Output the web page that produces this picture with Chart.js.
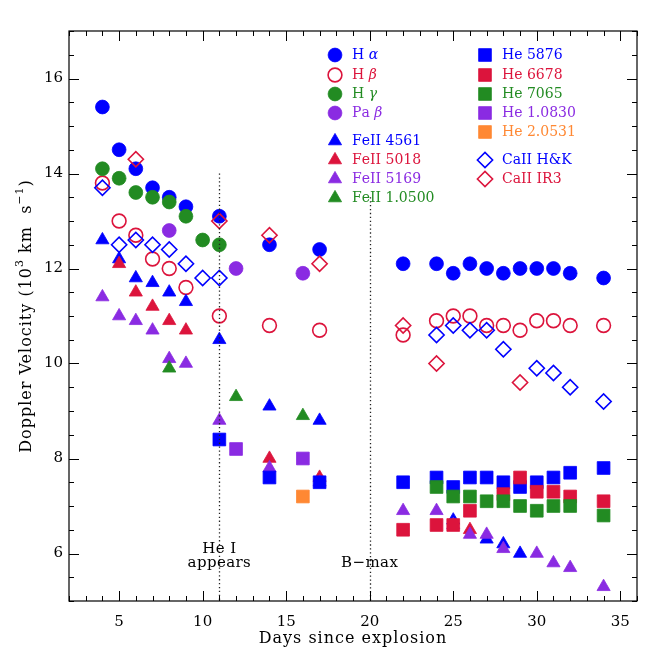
<!DOCTYPE html>
<html><head><meta charset="utf-8">
<script src="https://cdn.jsdelivr.net/npm/chart.js@4/dist/chart.umd.min.js"></script>
<style>html,body{margin:0;padding:0;background:#fff}#wrap{width:664px;height:664px}</style>
</head><body><div id="wrap"><canvas id="c" width="664" height="664"></canvas></div>
<script>
// ---------------- data ----------------
const X_TICKS = [5, 10, 15, 20, 25, 30, 35];
const Y_TICKS = [6, 8, 10, 12, 14, 16];

const haDays = [4,5,6,7,8,9,11,14,17,22,24,25,26,27,28,29,30,31,32,34];
const haVel  = [15.4,14.5,14.1,13.7,13.5,13.3,13.1,12.5,12.4,12.1,12.1,11.9,12.1,12.0,11.9,12.0,12.0,12.0,11.9,11.8];
const hbDays = [4,5,6,7,8,9,11,14,17,22,24,25,26,27,28,29,30,31,32,34];
const hbVel  = [13.8,13.0,12.7,12.2,12.0,11.6,11.0,10.8,10.7,10.6,10.9,11.0,11.0,10.8,10.8,10.7,10.9,10.9,10.8,10.8];
const hgDays = [4,5,6,7,8,9,10,11];
const hgVel  = [14.1,13.9,13.6,13.5,13.4,13.1,12.6,12.5];
const pabDays = [8,12,16];
const pabVel  = [12.8,12.0,11.9];
const fe4561Days = [4,5,6,7,8,9,11,14,17,25,27,28,29];
const fe4561Vel  = [12.6,12.2,11.8,11.7,11.5,11.3,10.5,9.1,8.8,6.7,6.3,6.2,6.0];
const fe5018Days = [5,6,7,8,9,14,17,26];
const fe5018Vel  = [12.1,11.5,11.2,10.9,10.7,8.0,7.6,6.5];
const fe5169Days = [4,5,6,7,8,9,11,14,17,22,24,25,26,27,28,30,31,32,34];
const fe5169Vel  = [11.4,11.0,10.9,10.7,10.1,10.0,8.8,7.8,7.5,6.9,6.9,6.6,6.4,6.4,6.1,6.0,5.8,5.7,5.3];
const fe10500Days = [8,12,16];
const fe10500Vel  = [9.9,9.3,8.9];
const he5876Days = [11,14,17,22,24,25,26,27,28,29,30,31,32,34];
const he5876Vel  = [8.4,7.6,7.5,7.5,7.6,7.4,7.6,7.6,7.5,7.4,7.5,7.6,7.7,7.8];
const he6678Days = [22,24,25,26,28,29,30,31,32,34];
const he6678Vel  = [6.5,6.6,6.6,6.9,7.25,7.6,7.3,7.3,7.2,7.1];
const he7065Days = [24,25,26,27,28,29,30,31,32,34];
const he7065Vel  = [7.4,7.2,7.2,7.1,7.1,7.0,6.9,7.0,7.0,6.8];
const he10830Days = [12,16];
const he10830Vel  = [8.2,8.0];
const he20531Days = [16];
const he20531Vel  = [7.2];
const caHKDays = [4,5,6,7,8,9,10,11,24,25,26,27,28,30,31,32,34];
const caHKVel  = [13.7,12.5,12.6,12.5,12.4,12.1,11.8,11.8,10.6,10.8,10.7,10.7,10.3,9.9,9.8,9.5,9.2];
const caIRDays = [6,11,14,17,22,24,29];
const caIRVel  = [14.3,13.0,12.7,12.1,10.8,10.0,9.6];

const EVENT_DAYS = [11, 20];
const EVENT_TOPS = [14.0, 13.5];
const EVENT_LABELS = [["He I", "appears"], ["B\u2212max"]];

// ---------------- styling ----------------
const FONT = '"DejaVu Serif", serif';
const BLUE = '#0000ff', RED = '#dc143c', GREEN = '#228b22', PURPLE = '#8a2be2', ORANGE = '#ff8833';

function pts(d, v) { return d.map((x, i) => ({ x: x, y: v[i] })); }

const SERIES = [
  { label: 'H \u03b1', d: haDays, v: haVel, c: BLUE, s: 'circle', open: false },
  { label: 'H \u03b2', d: hbDays, v: hbVel, c: RED, s: 'circle', open: true },
  { label: 'H \u03b3', d: hgDays, v: hgVel, c: GREEN, s: 'circle', open: false },
  { label: 'Pa \u03b2', d: pabDays, v: pabVel, c: PURPLE, s: 'circle', open: false },
  { label: 'FeII 4561', d: fe4561Days, v: fe4561Vel, c: BLUE, s: 'triangle', open: false },
  { label: 'FeII 5018', d: fe5018Days, v: fe5018Vel, c: RED, s: 'triangle', open: false },
  { label: 'FeII 5169', d: fe5169Days, v: fe5169Vel, c: PURPLE, s: 'triangle', open: false },
  { label: 'FeII 1.0500', d: fe10500Days, v: fe10500Vel, c: GREEN, s: 'triangle', open: false },
  { label: 'He 5876', d: he5876Days, v: he5876Vel, c: BLUE, s: 'rect', open: false },
  { label: 'He 6678', d: he6678Days, v: he6678Vel, c: RED, s: 'rect', open: false },
  { label: 'He 7065', d: he7065Days, v: he7065Vel, c: GREEN, s: 'rect', open: false },
  { label: 'He 1.0830', d: he10830Days, v: he10830Vel, c: PURPLE, s: 'rect', open: false },
  { label: 'He 2.0531', d: he20531Days, v: he20531Vel, c: ORANGE, s: 'rect', open: false },
  { label: 'CaII H&K', d: caHKDays, v: caHKVel, c: BLUE, s: 'rectRot', open: true },
  { label: 'CaII IR3', d: caIRDays, v: caIRVel, c: RED, s: 'rectRot', open: true },
];
const RADIUS = { circle: 6.9, triangle: 7.6, rect: 9.0, rectRot: 7.6 };

const datasets = SERIES.map((s, i) => ({
  label: s.label,
  data: pts(s.d, s.v),
  pointStyle: s.s,
  pointRadius: RADIUS[s.s],
  pointHoverRadius: RADIUS[s.s],
  pointBackgroundColor: s.open ? 'rgba(0,0,0,0)' : s.c,
  pointBorderColor: s.c,
  pointBorderWidth: s.open ? 1.6 : 0.8,
  showLine: false,
  order: SERIES.length - i
}));

// legend layout (pixel positions for the inset legend)
const LEGEND_POS = [
  [335, 55], [335, 75], [335, 94], [335, 113],
  [335, 141], [335, 160], [335, 179], [335, 198],
  [485, 55], [485, 75], [485, 94], [485, 113], [485, 132],
  [485, 160], [485, 179]
];

function drawMarker(ctx, s, x, y) {
  const r = RADIUS[s.s];
  ctx.save();
  ctx.fillStyle = s.c; ctx.strokeStyle = s.c;
  ctx.lineWidth = s.open ? 1.6 : 0.8;
  ctx.beginPath();
  if (s.s === 'circle') ctx.arc(x, y, r, 0, Math.PI * 2);
  else if (s.s === 'triangle') {
    ctx.moveTo(x, y - r);
    ctx.lineTo(x + r * Math.sin(2 * Math.PI / 3), y - r * Math.cos(2 * Math.PI / 3));
    ctx.lineTo(x + r * Math.sin(4 * Math.PI / 3), y - r * Math.cos(4 * Math.PI / 3));
    ctx.closePath();
  } else if (s.s === 'rect') {
    const h = r * Math.SQRT1_2; ctx.rect(x - h, y - h, 2 * h, 2 * h);
  } else {
    ctx.moveTo(x - r, y); ctx.lineTo(x, y - r); ctx.lineTo(x + r, y); ctx.lineTo(x, y + r); ctx.closePath();
  }
  if (!s.open) ctx.fill();
  ctx.stroke();
  ctx.restore();
}

function drawRich(ctx, text, x, y, size, color) {
  // greek letters in italic
  ctx.fillStyle = color;
  ctx.textBaseline = 'middle';
  ctx.textAlign = 'left';
  let cx = x;
  for (const ch of text) {
    const greek = ch >= '\u0370' && ch <= '\u03ff';
    ctx.font = (greek ? 'italic ' : '') + size + 'px ' + FONT;
    ctx.fillText(ch, cx, y);
    cx += ctx.measureText(ch).width;
  }
}

const decor = {
  id: 'decor',
  afterDatasetsDraw(chart) {
    const ctx = chart.ctx, xs = chart.scales.x, ys = chart.scales.y, a = chart.chartArea;
    ctx.save();
    // event lines
    ctx.strokeStyle = '#222'; ctx.lineWidth = 1.3; ctx.setLineDash([1.3, 2.6]);
    EVENT_DAYS.forEach((d, i) => {
      const px = Math.round(xs.getPixelForValue(d)) + 0.5;
      ctx.beginPath();
      ctx.moveTo(px, ys.getPixelForValue(EVENT_TOPS[i]));
      ctx.lineTo(px, a.bottom);
      ctx.stroke();
    });
    ctx.setLineDash([]);
    ctx.fillStyle = '#000'; ctx.font = '15px ' + FONT; ctx.textAlign = 'center'; ctx.textBaseline = 'middle';
    if ('letterSpacing' in ctx) ctx.letterSpacing = '0.4px';
    EVENT_DAYS.forEach((d, i) => {
      const px = xs.getPixelForValue(d);
      const lines = EVENT_LABELS[i];
      lines.forEach((t, k) => {
        ctx.fillText(t, px, 563 - (lines.length - 1 - k) * 14);
      });
    });
    if ('letterSpacing' in ctx) ctx.letterSpacing = '0px';
    // frame
    ctx.strokeStyle = '#000'; ctx.lineWidth = 1.2;
    ctx.strokeRect(a.left, a.top, a.right - a.left, a.bottom - a.top);
    // ticks inside
    ctx.lineWidth = 1;
    ctx.beginPath();
    for (let d = Math.ceil(xs.min); d <= xs.max; d++) {
      const px = Math.round(xs.getPixelForValue(d)) + 0.5;
      const L = (d % 5 === 0) ? 10 : 5;
      ctx.moveTo(px, a.bottom); ctx.lineTo(px, a.bottom - L);
      ctx.moveTo(px, a.top); ctx.lineTo(px, a.top + L);
    }
    for (let v = Math.ceil(ys.min * 2) / 2; v <= ys.max; v += 0.5) {
      const py = Math.round(ys.getPixelForValue(v)) + 0.5;
      const L = (v % 2 === 0) ? 10 : 5;
      ctx.moveTo(a.left, py); ctx.lineTo(a.left + L, py);
      ctx.moveTo(a.right, py); ctx.lineTo(a.right - L, py);
    }
    ctx.stroke();
    // legend
    SERIES.forEach((s, i) => {
      const [lx, ly] = LEGEND_POS[i];
      drawMarker(ctx, s, lx, ly);
      drawRich(ctx, s.label, lx + 17, ly, 14, s.c);
    });
    // axis titles
    if ('letterSpacing' in ctx) ctx.letterSpacing = '1px';
    ctx.fillStyle = '#000'; ctx.font = '16px ' + FONT; ctx.textAlign = 'center'; ctx.textBaseline = 'middle';
    ctx.fillText('Days since explosion', (a.left + a.right) / 2, 639);
    // y title with superscripts
    const parts = [
      ['Doppler Velocity (10', 16, 0], ['3', 11, -7], [' km  s', 16, 0], ['\u22121', 11, -7], [')', 16, 0]
    ];
    let total = 0;
    parts.forEach(p => { ctx.font = p[1] + 'px ' + FONT; total += ctx.measureText(p[0]).width; });
    ctx.translate(27, (a.top + a.bottom) / 2);
    ctx.rotate(-Math.PI / 2);
    let cx = -total / 2;
    ctx.textAlign = 'left';
    parts.forEach(p => {
      ctx.font = p[1] + 'px ' + FONT;
      ctx.fillText(p[0], cx, p[2]);
      cx += ctx.measureText(p[0]).width;
    });
    ctx.restore();
  }
};

new Chart(document.getElementById('c'), {
  type: 'scatter',
  data: { datasets: datasets },
  options: {
    responsive: false,
    animation: false,
    layout: { padding: { left: 0, top: 31, right: 27, bottom: 0 } },
    plugins: { legend: { display: false }, tooltip: { enabled: false } },
    scales: {
      x: {
        type: 'linear', min: 2, max: 36,
        afterBuildTicks: sc => { sc.ticks = X_TICKS.map(v => ({ value: v })); },
        afterFit: sc => { sc.height = 63; },
        grid: { display: false, drawTicks: false },
        border: { display: false },
        ticks: { color: '#000', font: { family: FONT, size: 15 }, padding: 12, maxRotation: 0, autoSkip: false }
      },
      y: {
        type: 'linear', min: 5, max: 17,
        afterBuildTicks: sc => { sc.ticks = Y_TICKS.map(v => ({ value: v })); },
        afterFit: sc => { sc.width = 69; },
        grid: { display: false, drawTicks: false },
        border: { display: false },
        ticks: { color: '#000', font: { family: FONT, size: 15 }, padding: 6, autoSkip: false }
      }
    }
  },
  plugins: [decor]
});
</script></body></html>
